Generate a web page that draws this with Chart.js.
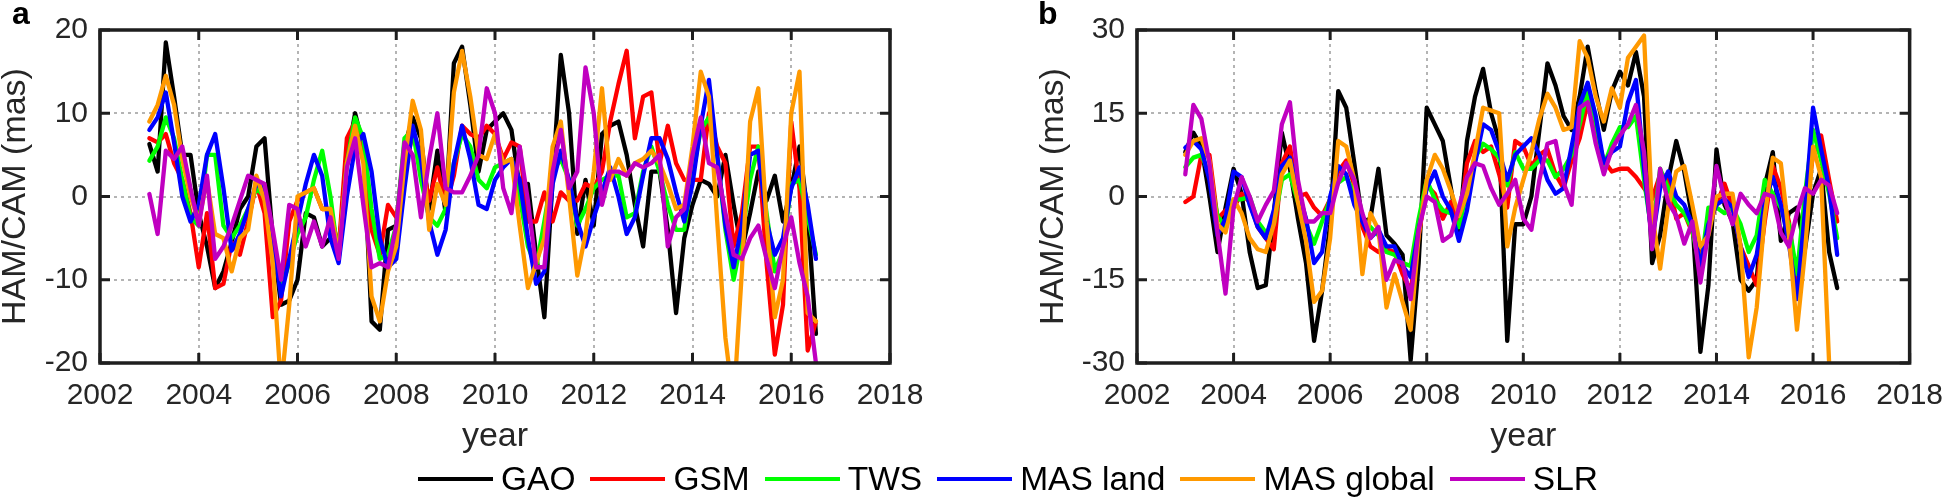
<!DOCTYPE html>
<html><head><meta charset="utf-8">
<script src="https://cdn.jsdelivr.net/npm/chart.js@4.4.1/dist/chart.umd.min.js"></script>
<style>
html,body{margin:0;padding:0;background:#fff;}
body{width:1958px;height:502px;position:relative;overflow:hidden;font-family:"Liberation Sans",Arial,sans-serif;}
canvas{position:absolute;top:0;}
#ca{left:0}
#cb{left:979px}
.panel{position:absolute;font:bold 32px "Liberation Sans",Arial,sans-serif;line-height:32px;color:#000;}
#legend{position:absolute;left:418px;top:462px;height:34px;display:flex;align-items:center;font:33.5px "Liberation Sans",Arial,sans-serif;line-height:34px;color:#000;white-space:nowrap}
.item{display:flex;align-items:center;margin-right:15px}
.swatch{width:75px;height:4px;margin-right:8px}
</style></head>
<body>
<canvas id="ca" width="979" height="502"></canvas>
<canvas id="cb" width="979" height="502"></canvas>
<div class="panel" style="left:12px;top:-3px">a</div>
<div class="panel" style="left:1038px;top:-3px">b</div>
<div id="legend"></div>
<script>
const years = [2003,2003.167,2003.333,2003.5,2003.667,2003.833,2004,2004.167,2004.333,2004.5,2004.667,2004.833,
2005,2005.167,2005.333,2005.5,2005.667,2005.833,2006,2006.167,2006.333,2006.5,2006.667,2006.833,
2007,2007.167,2007.333,2007.5,2007.667,2007.833,2008,2008.167,2008.333,2008.5,2008.667,2008.833,
2009,2009.167,2009.333,2009.5,2009.667,2009.833,2010,2010.167,2010.333,2010.5,2010.667,2010.833,
2011,2011.167,2011.333,2011.5,2011.667,2011.833,2012,2012.167,2012.333,2012.5,2012.667,2012.833,
2013,2013.167,2013.333,2013.5,2013.667,2013.833,2014,2014.167,2014.333,2014.5,2014.667,2014.833,
2015,2015.167,2015.333,2015.5,2015.667,2015.833,2016,2016.167,2016.333,2016.5];

const seriesNames = ['GAO','GSM','TWS','MAS land','MAS global','SLR'];
const seriesColors = ['#000000','#ff0000','#00ff00','#0000ff','#ff9900','#c000c0'];
const xTicks = [2002,2004,2006,2008,2010,2012,2014,2016,2018];
const yTicksA = [-20,-10,0,10,20];
const yTicksB = [-30,-15,0,15,30];

// Panel a
const gaoA = [6.3,3,18.5,12,5,5,-2,-6,-11,-9,-5.5,-1.5,0,6,7,-5,-13,-12.5,-10,-2,-2.5,-6,-5,-7,4.5,10,6,-15,-16,-4,-3.5,6,9.5,7,-1.5,5.5,-2,16,18,11,3,8,
 9,10,8,1,1.5,-7,-14.5,2,17,10,-4.5,2,-3.5,7.5,8.5,9,5,-1,-6,3,3,-4,-14,-5,-1,2,1.5,0,5,-1,-6.5,-2,3,-0.5,2.5,-3,1,6,-2,-16.5];
const gsmA = [7,6.5,7.5,4,2,-2,-8.5,-2,-11,-10.5,-5.5,-7,-3,1.5,-2,-14.5,-12.5,-3,-0.5,0.5,1,-1.5,-1.5,-6.5,7,9,5,-4,-7,-1,-2.5,3,7.5,5,-0.5,3.5,-1,2.5,8.5,7.5,7,8.5,
 7.5,4.5,6.5,6,-3,-3,0.5,-3,0.5,-0.5,-0.5,1.5,1,3,9,13.5,17.5,7,12,12.5,4,8.5,4,2,2,2,10,6,4,-6,-2,6,6,-8,-19,-13,9,1,-18.5,-15];
const twsA = [4.3,6,9.5,7,2,-2.5,-3.5,5,5,-3.5,-5,-3.5,-1.5,1,0,-6,-11,-8,-4.5,-2.5,2,5.5,0,-7.5,4,9.5,7,-1.5,-7.5,-7,-3.5,7,8,2,-2.5,-3.5,-1.5,4,7.5,6,2,1,
 3.5,4,4.5,0,-6,-8.5,-3,3,4.5,2,-3.5,-1.5,1,2,2.5,2.5,-2.5,-2,3,6,3,-1,-4,-4,2.5,8,9.5,5,-4,-10,-5,2,6,-2,-9,-6.5,1.5,2,-2.5,-7];
const masLandA = [8,9.5,12.5,6.5,0,-3,-1,5,7.5,1,-6.5,-4.5,-1.5,1.5,1,-5,-12,-7.5,-3,1.5,5,2.5,-5,-8,0,6,7.5,3,-5,-8.5,-7.5,1,8.5,4.5,-3,-7,-4,4,8.5,4.5,-1,-1.5,
 2,3.5,4.5,2,-5,-10.5,-9,1.5,5.5,2,-3,-6,-2.5,0.5,3.5,0,-4.5,-2.5,2.5,7,7,4.5,0.5,-3,1.5,8.5,14,5,-3.5,-8.5,-3.5,5,5.5,-3,-7,-5,1,3.5,-1,-7.5];
const masGlobalA = [9,11,14.5,11,4.5,0,-3,2,-4.5,-5,-9,-5,-4,2.5,-0.5,-8,-23,-13,0,0.5,1,-1.5,-1.5,-7,4,8.5,4,-12,-15,-9,-6,4,11.5,8,-4,1.5,-1,12.5,17.5,12,5,4.5,
 7.5,4,4.5,-3.5,-11,-8,-5,6,9,0,-9.5,-4.5,3,13,2,4.5,2.5,4,4.5,5.5,4,1.5,-1.5,-1,6,15,12,-3,-17,-25,-9,9,13,-3,-14.5,-10,10,15,-14,-15];
const slrA = [0.3,-4.5,5.5,4.5,6,1,-3.5,2.5,-7.5,-6,-3.5,-0.5,2.5,2,1.5,-4,-10,-1,-1.5,-6,-3,-6,-2.5,-7.5,3.5,7,-1,-8.5,-8,-8.5,-3.5,6.5,5,-2.5,4.5,10,1,0.5,0.5,2.5,5,13,
 10,1,-2,6,-0.5,-8.5,-8.5,3,8,1,3,15.5,10,-1,3,3,2.5,4,3.5,4,5,-6,-2.5,-1.5,5,9.5,4,3.5,-2,-7,-7.5,-5,-3.5,-7.5,-11,-6,-2.5,-8,-12,-20];

// Panel b
const gaoB = [8,11.5,9,0,-10,-2,5,0.5,-10,-16.5,-16,-3,11.5,5,-4,-12,-26,-17,-5,19,16,6,-4.5,-4,5,-7,-8.5,-10.5,-29.5,-12,16,13,10,1.5,-7,10,18,23,15,10,-26,-5,
 -5,0,12,24,20,14.5,12,18,27,19,12,19,22.5,20,26,18,-12,-7,3,10,4.5,-4,-28,-16,8.5,-1.5,-4.5,-15,-17,-15,2,8,-8,-3,-2,-9.5,0.5,5,-10,-16.5];
const gsmB = [-1,0,7.5,7.5,-4,-2.5,-2,0.5,-1,-5.5,-7.5,-9.5,6,9,0,0.5,-2,-3.5,-0.5,4.5,6.5,2,-5.5,-9,-10,-9.5,-10,-14,-17,-7,2,0.5,-4,-1,-5.5,6,10,8,9,4,-2,10,
 9,5.5,7.5,8.5,4,1.5,6.5,10.5,17,11.5,6.5,4.5,5,5,3.5,1.5,-0.5,4,3.5,-4,-3,-6.5,-11,-5.5,-1.5,2.3,-2,-9,-12.5,-16,-4.5,5.5,1.5,-4.5,-16,-3,7.5,11,3,-4.5];
const twsB = [5.3,7,7.5,4,-3.5,-5.5,-0.5,-0.5,0,-4.5,-6.5,-5,3,4,-1,-5,-8.5,-4.5,-0.5,2.5,3.5,0.5,-4,-5.5,-7,-10,-10.5,-12,-12.5,-4,3,-0.5,-2.5,-3,-5.5,1,7,9.5,8.5,7,2,8,
 5,5,6.5,6.5,3.5,5,7.5,13,19,13.5,5.5,9.5,12.5,12.5,14.5,3,-7,5,1.5,-1.5,-3,-6,-13.5,-2,-2,-3,-2,-5,-10,-7,3,0.5,-2,-5,-14,0.5,12,6.5,0.5,-7.5];
const masLandB = [8.8,10,8.5,3,-7,-4,4.5,3.5,-1.5,-5.5,-7.5,-2.5,5.5,7,1,-4,-12,-10,0,5.5,4,-1.5,-4.5,-7.5,-6,-9,-9,-12.5,-14.5,-6,1.5,4.5,0,-2.5,-8,-2.5,6,13,12,8,3,7.5,
 9,10.5,7.5,3,0.5,1.5,9,16.5,20.5,14.5,6,8,9,17,21,5,-8,1.5,4.5,0,-1.5,-5,-12.5,-5,-1.5,-0.5,-2,-9,-14.5,-10.5,-1,3.5,-1.5,-8.5,-18.5,-2.5,16,8.5,1.5,-10.5];
const masGlobalB = [7.5,10,10.5,6.5,-5,-6.5,-0.5,-3,-7.5,-9.5,-10,-5,4,6.5,-1,-8,-19,-17,-7.5,10,9,3,-14,-3,-6,-20,-14,-19,-24,-7,3,7.5,5,1,-3.5,0.5,8,16,15.5,15,-9,-2,
 3,8,14,18.5,16,12,12.5,28,25,18,13.5,19.5,16,25,27,29,-3,-13,-2,4.5,5.5,-1.5,-9,-7,0,0.5,0.5,-9,-29,-20,-3.5,7,6,-7,-24,-10,9,3.5,-30,-40];
const slrB = [4,16.5,14,6,-6.5,-17.5,-2,3.5,0,-4.5,-1.5,1,13,17,3,-4.5,-4.5,-3,-3,2.5,6,3,-3,-7.5,-5.5,-15,-11.5,-12,-18.5,-6,0,-1,-8,-7,-2,3.5,6,5.5,1.5,-1.5,0.5,3,
 -4,-6,3,9.5,10,2.5,-1.5,16,17,9.5,4,8.5,11,13,16.5,8,-9.5,5,-1,-3.5,-8.5,-4.5,-15.5,-6.5,5.5,-0.5,-5,0.5,-1.5,-3,0.5,0,-6.5,-9,-3,1.5,0.5,3,2,-3];

const FONT = '"Liberation Sans", Arial, sans-serif';
const TEXT = '#262626';

const boxPlugin = {
  id: 'boxTicks',
  afterDatasetsDraw(chart) {
    const {ctx, chartArea: {left, right, top, bottom}, scales: {x, y}} = chart;
    ctx.save();
    ctx.strokeStyle = '#1e1e1e';
    ctx.lineWidth = 3;
    ctx.beginPath();
    const tl = 10;
    x.ticks.forEach(t => {
      const px = x.getPixelForValue(t.value);
      ctx.moveTo(px, bottom); ctx.lineTo(px, bottom - tl);
      ctx.moveTo(px, top); ctx.lineTo(px, top + tl);
    });
    y.ticks.forEach(t => {
      const py = y.getPixelForValue(t.value);
      ctx.moveTo(left, py); ctx.lineTo(left + tl, py);
      ctx.moveTo(right, py); ctx.lineTo(right - tl, py);
    });
    ctx.stroke();
    ctx.lineWidth = 3.5;
    ctx.strokeRect(left, top, right - left, bottom - top);
    ctx.restore();
  }
};

function makeChart(id, seriesValues, yTicks, padLeft, yWidth, padRight) {
  const datasets = seriesValues.map((vals, k) => ({
    label: seriesNames[k],
    data: years.map((t, i) => ({x: t, y: vals[i]})),
    borderColor: seriesColors[k],
    backgroundColor: seriesColors[k],
    borderWidth: 4.3,
    pointRadius: 0,
    fill: false,
    tension: 0,
    order: 10 - k,
    clip: 0,
    borderJoinStyle: 'round',
    borderCapStyle: 'round'
  }));
  const yMin = yTicks[0], yMax = yTicks[yTicks.length - 1], yStep = yTicks[1] - yTicks[0];
  return new Chart(document.getElementById(id), {
    type: 'line',
    data: {datasets},
    options: {
      responsive: false,
      animation: false,
      devicePixelRatio: 1,
      layout: {padding: {left: padLeft, right: padRight, top: 28, bottom: 50}},
      plugins: {legend: {display: false}, tooltip: {enabled: false}},
      scales: {
        x: {
          type: 'linear', min: xTicks[0], max: xTicks[xTicks.length - 1],
          afterFit: s => { s.height = 89; },
          afterBuildTicks: s => { s.ticks = xTicks.map(v => ({value: v})); },
          ticks: {callback: v => String(v), font: {family: FONT, size: 30}, color: TEXT, padding: 15, maxRotation: 0, autoSkip: false},
          grid: {color: '#b4b4b4', lineWidth: 2, drawTicks: false},
          border: {display: false, dash: [3, 4]},
          title: {display: true, text: 'year', font: {family: FONT, size: 34, lineHeight: 0.9}, color: TEXT, padding: 0}
        },
        y: {
          type: 'linear', min: yMin, max: yMax,
          afterFit: s => { s.width = yWidth; },
          afterBuildTicks: s => { s.ticks = yTicks.map(v => ({value: v})); },
          ticks: {stepSize: yStep, callback: v => String(v), font: {family: FONT, size: 30}, color: TEXT, padding: 12},
          grid: {color: '#b4b4b4', lineWidth: 2, drawTicks: false},
          border: {display: false, dash: [3, 4]},
          title: {display: true, text: 'HAM/CAM (mas)', font: {family: FONT, size: 34, lineHeight: 0.9}, color: TEXT, padding: 0}
        }
      }
    },
    plugins: [boxPlugin]
  });
}

makeChart('ca', [gaoA, gsmA, twsA, masLandA, masGlobalA, slrA], yTicksA, 0, 100, 89);
makeChart('cb', [gaoB, gsmB, twsB, masLandB, masGlobalB, slrB], yTicksB, 59, 99, 48);

const legend = document.getElementById('legend');
seriesNames.forEach((name, k) => {
  const item = document.createElement('div');
  item.className = 'item';
  const sw = document.createElement('span');
  sw.className = 'swatch';
  sw.style.background = seriesColors[k];
  const tx = document.createElement('span');
  tx.textContent = name;
  item.appendChild(sw); item.appendChild(tx);
  legend.appendChild(item);
});
</script>
</body></html>
